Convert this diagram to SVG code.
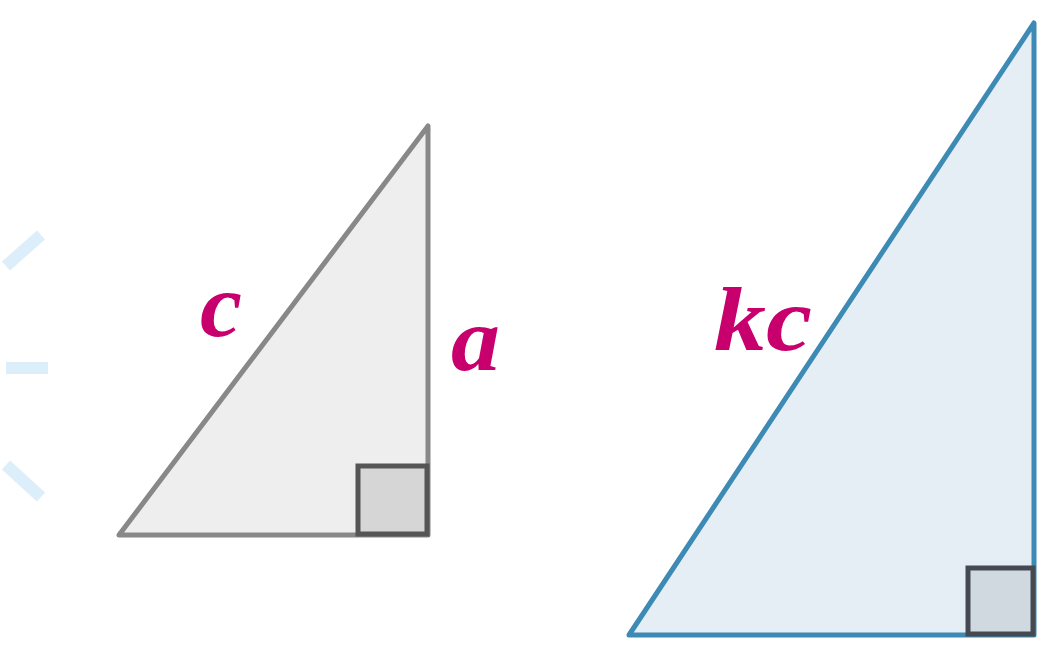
<svg xmlns="http://www.w3.org/2000/svg" width="1058" height="646" viewBox="0 0 1058 646">
<style>
.lbl{font-family:"Liberation Serif","DejaVu Serif",serif;font-style:italic;font-weight:bold;font-size:92px;fill:#c8006e}
.dash{stroke:#dbeef9;stroke-width:12;fill:none}
</style>
<rect width="1058" height="646" fill="#ffffff"/>
<g id="dashes">
<line class="dash" x1="6" y1="266" x2="41" y2="235"/>
<line class="dash" x1="6" y1="368" x2="48" y2="368"/>
<line class="dash" x1="6" y1="465" x2="41" y2="497"/>
</g>
<g id="small-triangle">
<polygon points="119,535 428,126 428,535" fill="#eeeeee" stroke="#888888" stroke-width="5" stroke-linejoin="round"/>
<rect x="358" y="466" width="69" height="68" fill="#d6d6d6" stroke="#555555" stroke-width="5"/>
<text class="lbl" x="200" y="336" textLength="42" lengthAdjust="spacingAndGlyphs">c</text>
<text class="lbl" x="451" y="370" textLength="49" lengthAdjust="spacingAndGlyphs">a</text>
</g>
<g id="large-triangle">
<polygon points="629,635 1034,23 1034,635" fill="#e6eef5" stroke="#3d8ab5" stroke-width="5" stroke-linejoin="round"/>
<rect x="968" y="568" width="65" height="66" fill="#d0d8e0" stroke="#444a50" stroke-width="5"/>
<text class="lbl" x="714" y="350" textLength="98" lengthAdjust="spacingAndGlyphs">kc</text>
</g>
</svg>
